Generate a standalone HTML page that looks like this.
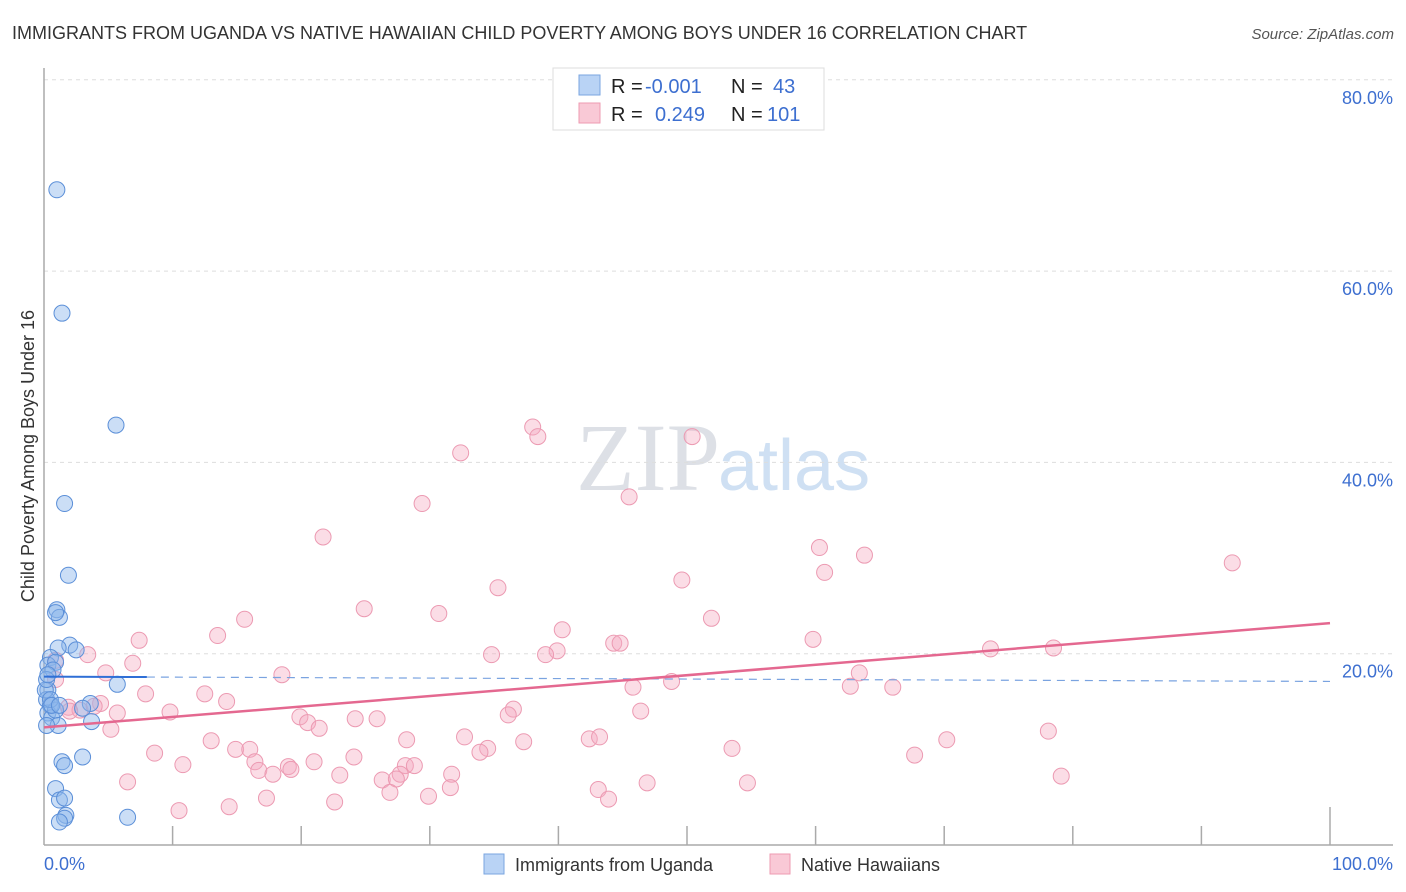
<!DOCTYPE html>
<html><head><meta charset="utf-8"><style>
body{margin:0;background:#fff;font-family:"Liberation Sans",sans-serif}
svg{display:block}
</style></head><body>
<svg width="1406" height="892" xmlns="http://www.w3.org/2000/svg">
<text x="12" y="39" font-size="18" fill="#333">IMMIGRANTS FROM UGANDA VS NATIVE HAWAIIAN CHILD POVERTY AMONG BOYS UNDER 16 CORRELATION CHART</text>
<text x="1394" y="39" font-size="15" fill="#555" font-style="italic" text-anchor="end">Source: ZipAtlas.com</text>
<text x="720" y="490" font-size="96" fill="#dde0e6" text-anchor="end" font-family="Liberation Serif,serif">ZIP</text>
<text x="718" y="490" font-size="72" fill="#cfe0f3">atlas</text>
<g id="grid"></g>
<g id="axes"></g>
<g id="pts"></g>
<g id="trend"></g>
<text transform="translate(34,456) rotate(-90)" font-size="18" fill="#333" text-anchor="middle">Child Poverty Among Boys Under 16</text>
<text x="44" y="870" font-size="18" fill="#3d6fd0">0.0%</text>
<text x="1393" y="870" font-size="18" fill="#3d6fd0" text-anchor="end">100.0%</text>
<g>
<rect x="484" y="854" width="20" height="20" fill="#b9d3f5" stroke="#7aa6e0"/>
<text x="515" y="871" font-size="18" fill="#333">Immigrants from Uganda</text>
<rect x="770" y="854" width="20" height="20" fill="#f9c9d6" stroke="#ee9bb2"/>
<text x="801" y="871" font-size="18" fill="#333">Native Hawaiians</text>
</g>
<g>
<rect x="553" y="68" width="271" height="62" fill="#fff" stroke="#ddd"/>
<rect x="579" y="75" width="21" height="20" fill="#b9d3f5" stroke="#7aa6e0"/>
<rect x="579" y="103" width="21" height="20" fill="#f9c9d6" stroke="#ee9bb2"/>
<text x="611" y="93" font-size="20" fill="#222">R =</text>
<text x="645" y="93" font-size="20" fill="#3d6fd0">-0.001</text>
<text x="731" y="93" font-size="20" fill="#222">N =</text>
<text x="773" y="93" font-size="20" fill="#3d6fd0">43</text>
<text x="611" y="121" font-size="20" fill="#222">R =</text>
<text x="655" y="121" font-size="20" fill="#3d6fd0">0.249</text>
<text x="731" y="121" font-size="20" fill="#222">N =</text>
<text x="767" y="121" font-size="20" fill="#3d6fd0">101</text>
</g>
</svg>
<script>
const yTicks=[20,40,60,80];
const yTickLabels=["20.0%","40.0%","60.0%","80.0%"];
const xTicks=[10,20,30,40,50,60,70,80,90,100];
const ugandaX=[1.0,1.4,5.6,1.6,1.9,1.0,1.2,0.9,2.0,1.1,2.5,0.5,0.3,0.9,0.7,5.7,0.3,0.2,0.5,0.3,0.6,3.6,3.0,0.9,1.1,3.7,1.4,1.6,3.0,0.9,1.2,1.6,1.7,1.6,1.2,6.5,0.1,0.2,0.5,0.2,0.6,0.3,1.2];
const ugandaY=[68.5,55.6,43.9,35.7,28.2,24.6,23.8,24.3,20.9,20.6,20.4,19.6,18.8,19.1,18.3,16.8,16.2,15.2,14.6,13.8,13.3,14.8,14.3,14.1,12.5,12.9,8.7,8.3,9.2,5.9,4.7,4.9,3.1,2.8,2.4,2.9,16.2,12.5,15.2,17.3,14.6,17.8,14.6];
const hawaiiX=[38.0,38.4,50.4,32.4,45.5,29.4,21.7,60.3,63.8,92.4,60.7,49.6,35.3,24.9,30.7,15.6,51.9,40.3,13.5,7.4,59.8,44.3,44.8,39.9,39.0,34.8,73.6,78.5,3.4,6.9,4.8,18.5,63.4,48.8,45.8,62.7,66.0,7.9,12.5,14.2,4.4,1.9,2.8,3.9,9.8,19.9,5.7,46.4,36.5,36.1,24.2,25.9,20.5,21.4,78.1,5.2,32.7,13.0,28.2,42.4,43.2,37.3,34.5,33.9,8.6,14.9,16.0,53.5,67.7,70.2,24.1,16.4,10.8,21.0,19.0,19.2,16.7,17.8,23.0,28.1,28.8,27.7,31.7,26.3,27.4,79.1,6.5,46.9,54.7,26.9,31.6,43.1,17.3,29.9,43.9,22.6,14.4,10.5,0.9,0.9,2.0];
const hawaiiY=[43.7,42.7,42.7,41.0,36.4,35.7,32.2,31.1,30.3,29.5,28.5,27.7,26.9,24.7,24.2,23.6,23.7,22.5,21.9,21.4,21.5,21.1,21.1,20.3,19.9,19.9,20.5,20.6,19.9,19.0,18.0,17.8,18.0,17.1,16.5,16.6,16.5,15.8,15.8,15.0,14.8,14.4,14.1,14.5,13.9,13.4,13.8,14.0,14.2,13.6,13.2,13.2,12.8,12.2,11.9,12.1,11.3,10.9,11.0,11.1,11.3,10.8,10.1,9.7,9.6,10.0,10.0,10.1,9.4,11.0,9.2,8.7,8.4,8.7,8.2,7.9,7.8,7.4,7.3,8.3,8.3,7.4,7.4,6.8,6.9,7.2,6.6,6.5,6.5,5.5,6.0,5.8,4.9,5.1,4.8,4.5,4.0,3.6,19.3,17.3,14.0];
const ugandaTrend=[17.6,17.1];
const hawaiiTrend=[12.3,23.2];
const NS="http://www.w3.org/2000/svg";
const sx=v=>44+v*12.86, sy=v=>845-v*9.565;
function mk(tag,attrs,parent){const e=document.createElementNS(NS,tag);for(const k in attrs)e.setAttribute(k,attrs[k]);parent.appendChild(e);return e;}
const grid=document.getElementById('grid'),axes=document.getElementById('axes'),pts=document.getElementById('pts'),tr=document.getElementById('trend');
yTicks.forEach((t,i)=>{
 const l=mk('line',{x1:44,x2:1393,y1:sy(t),y2:sy(t),stroke:'#ddd','stroke-dasharray':'4,4'},grid);
 
 
 const tx=mk('text',{x:1393,y:sy(t)+24,'font-size':18,fill:'#3d6fd0','text-anchor':'end'},grid);
 tx.textContent=yTickLabels[i];
 
 
});
const ya=mk('line',{x1:44,x2:44,y1:68,y2:845,stroke:'#aaa','stroke-width':1.5},axes);


const xa=mk('line',{x1:44,x2:1393,y1:845,y2:845,stroke:'#aaa','stroke-width':1.5},axes);


xTicks.forEach(t=>{
 const l=mk('line',{x1:sx(t),x2:sx(t),y1:t==100?807:826,y2:845,stroke:'#aaa','stroke-width':1.5},axes);
 
 
});
hawaiiX.forEach((x,i)=>{
 const c=mk('circle',{cx:sx(x),cy:sy(hawaiiY[i]),r:8,fill:'rgba(246,170,192,0.4)',stroke:'#ec9ab2','stroke-width':1},pts);
 
 
});
ugandaX.forEach((x,i)=>{
 const c=mk('circle',{cx:sx(x),cy:sy(ugandaY[i]),r:8,fill:'rgba(140,182,236,0.45)',stroke:'#5b8fd8','stroke-width':1},pts);
 
 
});
const slope=(ugandaTrend[1]-ugandaTrend[0])/100;
const b1=mk('line',{x1:sx(0),y1:sy(ugandaTrend[0]),x2:sx(8),y2:sy(ugandaTrend[0]+slope*8),stroke:'#2f6fd6','stroke-width':2},tr);


const b2=mk('line',{x1:sx(8),y1:sy(ugandaTrend[0]+slope*8),x2:sx(100),y2:sy(ugandaTrend[1]),stroke:'#7aa3e0','stroke-width':1.2,'stroke-dasharray':'8,6'},tr);


const p=mk('line',{x1:sx(0),y1:sy(hawaiiTrend[0]),x2:sx(100),y2:sy(hawaiiTrend[1]),stroke:'#e46890','stroke-width':2.5},tr);


</script>
</body></html>
